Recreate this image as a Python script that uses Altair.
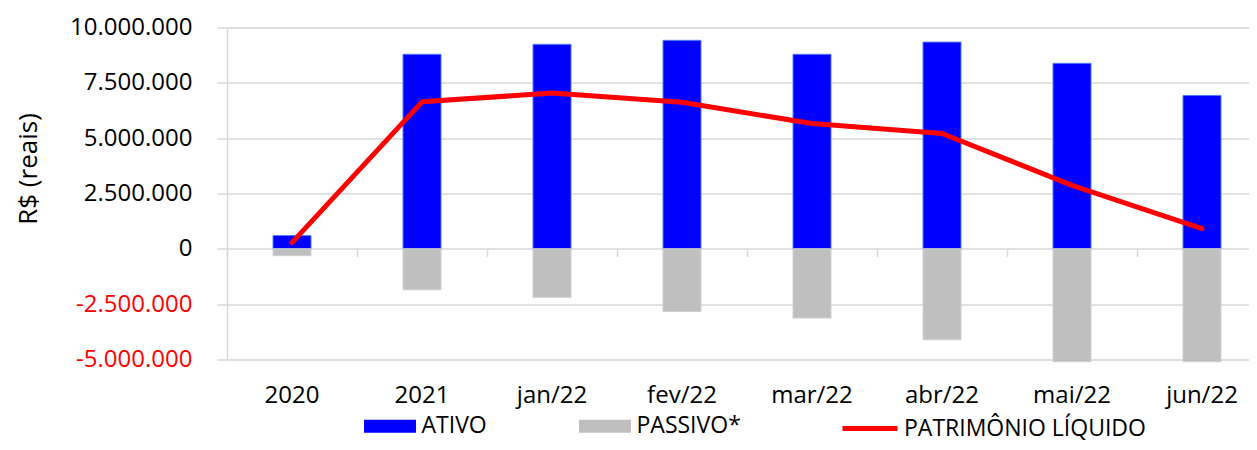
import altair as alt
import pandas as pd

categorias = ["2020", "2021", "jan/22", "fev/22", "mar/22", "abr/22", "mai/22", "jun/22"]
ativo = [600000, 8790000, 9240000, 9420000, 8790000, 9340000, 8380000, 6930000]
passivo = [-310000, -1850000, -2190000, -2830000, -3130000, -4110000, -5100000, -5100000]
patrimonio = [280000, 6640000, 7040000, 6620000, 5660000, 5210000, 2870000, 910000]
series = ["ATIVO", "PASSIVO*", "PATRIMÔNIO LÍQUIDO"]
cores = ["#0000ff", "#bfbfbf", "#ff0000"]
y_ticks = [-5000000, -2500000, 0, 2500000, 5000000, 7500000, 10000000]

rows = []
for i, c in enumerate(categorias):
    rows.append({"cat": c, "serie": series[0], "valor": ativo[i]})
    rows.append({"cat": c, "serie": series[1], "valor": passivo[i]})
    rows.append({"cat": c, "serie": series[2], "valor": patrimonio[i]})
df = pd.DataFrame(rows)

FONT = "Open Sans"
GRID = "#d9d9d9"
PL = series[2]
RECT = "M-0.945,-0.236L0.945,-0.236L0.945,0.236L-0.945,0.236Z"

x_scale = alt.Scale(domain=categorias, paddingInner=0, paddingOuter=0, range=[0, 1040])
y_scale = alt.Scale(domain=[-5000000, 10000000], nice=False, zero=False)

y_axis = alt.Axis(
    values=y_ticks, format=",.0f", labelFont=FONT, labelFontSize=24,
    labelColor={"expr": "datum.value < 0 ? '#ff0000' : '#000000'"},
    labelPadding=25, tickSize=10, tickColor=GRID, tickWidth=1.5,
    domainColor=GRID, domainWidth=1.5, gridColor=GRID, gridWidth=1.5,
    title="R$ (reais)", titleFont=FONT, titleFontSize=26, titleFontWeight="normal",
    titleColor="#000000", titleAngle=-90, titleX=-199, titleY=141,
    titleAlign="center", titleBaseline="middle",
)

legend_bars = alt.Legend(
    title=None, orient="none", legendX=135.5, legendY=371, direction="horizontal",
    labelFont=FONT, labelFontSize=23, labelColor="#000000", labelLimit=500,
    labelOffset=4, columnPadding=90, padding=0, symbolSize=3025,
    symbolType=RECT, symbolStrokeWidth=0, symbolOpacity=1,
)
legend_line = alt.Legend(
    title=None, orient="none", legendX=613, legendY=371, direction="horizontal",
    labelFont=FONT, labelFontSize=23, labelColor="#000000", labelLimit=500,
    labelOffset=4, padding=0, symbolSize=3025, symbolType="stroke",
    symbolStrokeWidth=5, symbolOpacity=1,
)

base = alt.Chart(df)

bars = base.transform_filter(
    alt.FieldOneOfPredicate(field="serie", oneOf=series[:2])
).mark_bar(size=38, strokeWidth=1).encode(
    x=alt.X("cat:N", sort=categorias, scale=x_scale, title=None,
            axis=alt.Axis(orient="bottom", labelAngle=0, labelFont=FONT, labelFontSize=24,
                          labelColor="#000000", ticks=False, tickSize=0, domain=False,
                          grid=False, labelPadding=36, labelBaseline="middle")),
    y=alt.Y("valor:Q", scale=y_scale, axis=y_axis, stack=None),
    fill=alt.Fill("serie:N", scale=alt.Scale(domain=series[:2], range=cores[:2]),
                  legend=legend_bars),
    stroke=alt.condition(alt.datum.serie == "ATIVO", alt.value("#4f7ff5"), alt.value("#d0d0d0")),
)

line = base.transform_filter(
    alt.FieldEqualPredicate(field="serie", equal=PL)
).mark_line(strokeWidth=5, strokeCap="round", strokeJoin="round").encode(
    x=alt.X("cat:N", sort=categorias, scale=x_scale, title=None,
            axis=alt.Axis(orient="bottom", offset=-111, labels=False, ticks=True,
                          tickSize=8, tickColor=GRID, tickWidth=1.5, bandPosition=0,
                          domain=False, grid=False)),
    y=alt.Y("valor:Q", scale=y_scale, axis=y_axis),
    stroke=alt.Stroke("serie:N", scale=alt.Scale(domain=[PL], range=[cores[2]]),
                      legend=legend_line),
)

chart = alt.layer(bars, line).resolve_axis(x="independent").resolve_scale(
    stroke="independent"
).properties(
    width=1022, height=332,
    padding={"left": 219, "top": 19.5, "right": 0, "bottom": 82.5},
    autosize=alt.AutoSizeParams(type="none"),
).configure_view(stroke=None).configure(
    locale=alt.Locale(number=alt.NumberLocale(decimal=",", thousands=".", grouping=[3],
                                              currency=["R$", ""], minus="-"))
)

chart.save("out.html", embed_options={"renderer": "svg", "actions": False})
